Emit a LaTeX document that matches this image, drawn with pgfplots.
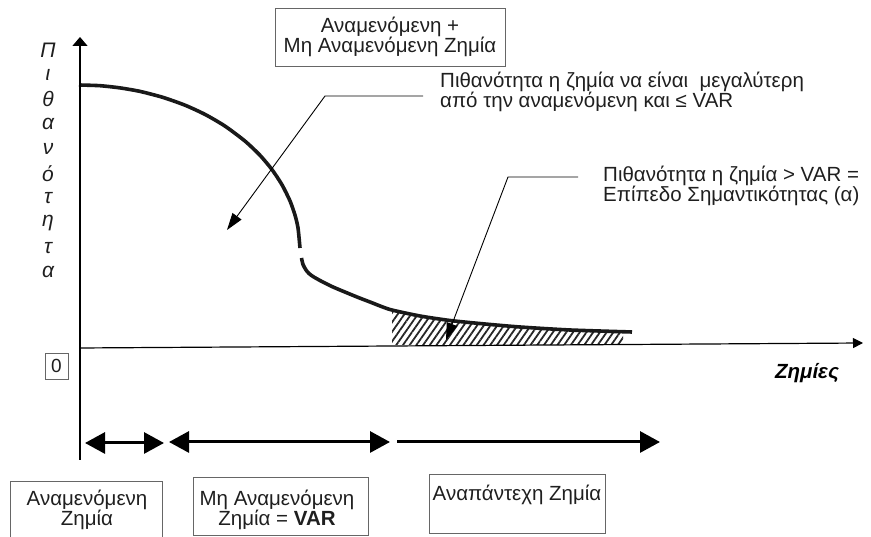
\documentclass[border=0pt]{standalone}
\usepackage{pgfplots}
\pgfplotsset{compat=1.18}
\usepackage{fontspec}
\setmainfont{Liberation Sans}
\usetikzlibrary{arrows.meta,patterns.meta}

% Loss distribution: density of losses, body of the distribution
\pgfplotstableread{
x   y
79  452
100 451.3
120 449.1
140 445.6
163 439.6
185 431.8
205 422.6
225 410.9
245 395.9
260 381.7
272 367.4
282 352.2
290 336.1
295 321.9
298 309.1
300 289
}\upper
% tail of the distribution
\pgfplotstableread{
x     y
301.5 279
303   272.5
306   267
309   263.5
313   260.5
320   256.5
333   250
357   240
370   235
390   227.5
420   221
450   216.5
485   213
520   210
570   207
632   205
}\tail
% Tail area beyond VAR (significance level)
\pgfplotstableread{
x   y
392 192
392 226
420 220
450 215.5
485 212
520 209
570 206
623 204
623 192
}\tailarea

\begin{document}
\begin{tikzpicture}[
  txt/.style={font=\fontsize{20.5}{19}\selectfont, align=center, inner sep=0pt, text=black!88},
  ylet/.style={font=\fontsize{21}{19}\selectfont\itshape, inner sep=0pt, text=black!88},
  box/.style={draw=black!60, line width=0.9pt},
  ann/.style={line width=0.9pt, -{Triangle[length=17pt,width=11pt]}},
  dbl/.style={line width=3pt, {Triangle[length=20pt,width=21pt]}-{Triangle[length=20pt,width=21pt]}},
]
\begin{axis}[
  name=ax,
  width=871pt, height=537pt, scale only axis,
  xmin=0, xmax=871, ymin=0, ymax=537,
  hide axis, clip=false,
]
% hatched tail
\addplot[draw=none, pattern={Lines[angle=55,distance=5.5pt,line width=1.8pt]}, pattern color=black!85]
  table {\tailarea} -- cycle;
% density curve
\addplot[line width=3.6pt, black!90, smooth, tension=0.4] table {\upper};
\addplot[line width=3.6pt, black!90, smooth, tension=0.4] table {\tail};

% axes
\draw[line width=1.2pt, -{Triangle[length=9pt,width=15pt]}] (axis cs:80,77) -- (axis cs:80,500);
\draw[line width=1.2pt, -{Triangle[length=10pt,width=10pt]}] (axis cs:80,189) -- (axis cs:863,194);

% vertical axis title
\node[ylet] at (axis cs:48,487) {Π};
\node[ylet] at (axis cs:48,462.3) {ι};
\node[ylet] at (axis cs:48,437.6) {θ};
\node[ylet] at (axis cs:48,412.9) {α};
\node[ylet] at (axis cs:48,388.2) {ν};
\node[ylet] at (axis cs:48,363.5) {ό};
\node[ylet] at (axis cs:48,338.8) {τ};
\node[ylet] at (axis cs:48,314.1) {η};
\node[ylet] at (axis cs:48,289.4) {τ};
\node[ylet] at (axis cs:48,264.7) {α};
% origin label
\node[box, minimum width=23pt, minimum height=26pt, inner sep=0pt, font=\fontsize{19}{19}\selectfont, text=black!88]
  at (axis cs:56.5,171) {0};
% horizontal axis title
\node[font=\fontsize{20.5}{19}\selectfont\bfseries\itshape, inner sep=0pt] at (axis cs:807,164) {Ζημίες};

% top box
\draw[box] (axis cs:275,529) rectangle (axis cs:505,471);
\node[txt] at (axis cs:390,500) {Αναμενόμενη +\\Μη Αναμενόμενη Ζημία};

% annotation 1
\draw[ann] (axis cs:423,441) -- (axis cs:325,441) -- (axis cs:227,307);
\node[txt, align=left, anchor=west] at (axis cs:440,445)
  {Πιθανότητα η ζημία να είναι\ \ μεγαλύτερη\\από την αναμενόμενη και ≤ VAR};

% annotation 2
\draw[ann] (axis cs:578,360) -- (axis cs:508,360) -- (axis cs:446,197);
\node[txt, align=left, anchor=west] at (axis cs:603,351)
  {Πιθανότητα η ζημία > VAR =\\Επίπεδο Σημαντικότητας (α)};

% loss ranges
\draw[dbl] (axis cs:85,94) -- (axis cs:164,94);
\draw[dbl] (axis cs:169,95) -- (axis cs:390,95);
\draw[line width=3pt, -{Triangle[length=20pt,width=21pt]}] (axis cs:397,95) -- (axis cs:660,95);

% range labels
\draw[box] (axis cs:10,56) rectangle (axis cs:162,-10);
\node[txt] at (axis cs:87,27) {Αναμενόμενη\\Ζημία};
\draw[box] (axis cs:193,60) rectangle (axis cs:368,2);
\node[txt] at (axis cs:277,27) {Μη Αναμενόμενη\\Ζημία = \textbf{VAR}};
\draw[box] (axis cs:429,63) rectangle (axis cs:605,4);
\node[txt] at (axis cs:517,42) {Αναπάντεχη Ζημία};
\end{axis}
\pgfresetboundingbox
\path (ax.south west) rectangle (ax.north east);
\end{tikzpicture}
\end{document}
